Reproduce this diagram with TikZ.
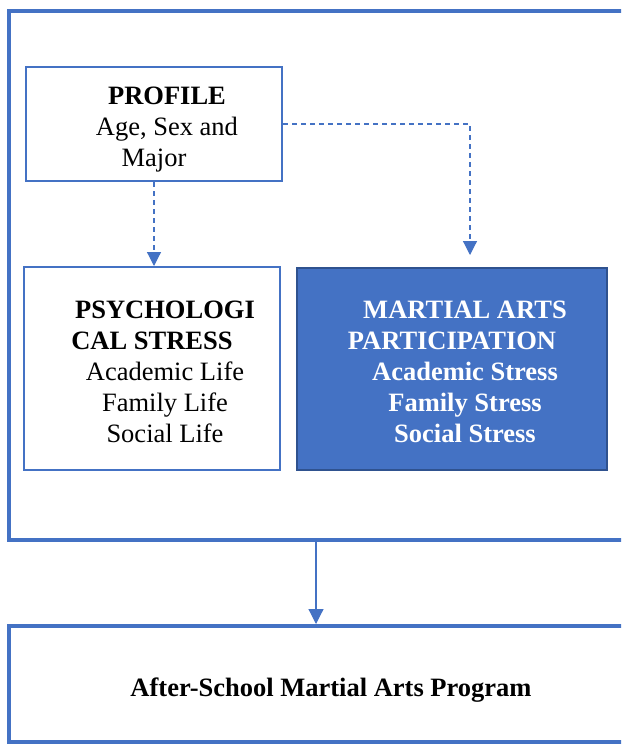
\documentclass[tikz,border=0pt]{standalone}
\usepackage{fontspec}
\setmainfont{Liberation Serif}
\usetikzlibrary{arrows.meta}
\definecolor{accent}{HTML}{4472C4}
\definecolor{accentdark}{HTML}{2F528F}
\newcommand{\ind}{\hspace*{26pt}}

\begin{document}
\begin{tikzpicture}[x=1pt,y=-1pt,
  box/.style={draw=accent, line width=2pt, fill=white, inner sep=0pt},
  words/.style={align=center, inner sep=0pt, font=\fontsize{26.5}{31}\selectfont},
  link/.style={draw=accent, line width=1.2pt, dash pattern=on 5pt off 4pt,
    -{Triangle[width=14pt,length=14pt]}},
  flow/.style={draw=accent, line width=1.2pt, -{Triangle[width=15pt,length=15pt]}}]
\useasboundingbox (0,0) rectangle (621,744);
\clip (0,0) rectangle (621,744);
% outer frame and the boxes in it
\node [box, line width=4pt, minimum width=631pt, minimum height=529pt] (frame) at (324.5,275.5) {};
\node [box, line width=2.5pt, minimum width=256pt, minimum height=114pt] (profile) at (154,124) {};
\node [box, minimum width=256pt, minimum height=203pt] (psych) at (152,368.5) {};
\node [box, fill=accent, draw=accentdark, minimum width=310pt, minimum height=202pt] (martial) at (452,369) {};
% program box below
\node [box, line width=4pt, minimum width=644pt, minimum height=116pt] (program) at (331,684) {};
% texts
\node [words] (profiletext) at ([yshift=-6pt]profile.center)
  {\ind\textbf{PROFILE}\\\ind Age, Sex and\\Major};
\node [words] (psychtext) at ([yshift=-3pt]psych.center)
  {\ind\textbf{PSYCHOLOGI}\\\textbf{CAL STRESS}\\\ind Academic Life\\\ind Family Life\\\ind Social Life};
\node [words, text=white, font=\fontsize{26.5}{31}\selectfont\bfseries] (martialtext) at ([yshift=-3pt]martial.center)
  {\ind MARTIAL ARTS\\PARTICIPATION\\\ind Academic Stress\\\ind Family Stress\\\ind Social Stress};
\node [words, font=\fontsize{26.5}{31}\selectfont\bfseries] (programtext) at ([yshift=-6pt]program.center)
  {After-School Martial Arts Program};
% connectors
\coordinate (mtip) at (470,255);
\coordinate (drop) at (316,0);
\draw [link] (profile.south) -- (profile.south |- psych.north);
\draw [link] (profile.east) -| (mtip);
\draw [flow] (frame.south -| drop) -- (program.north -| drop);
\end{tikzpicture}
\end{document}
